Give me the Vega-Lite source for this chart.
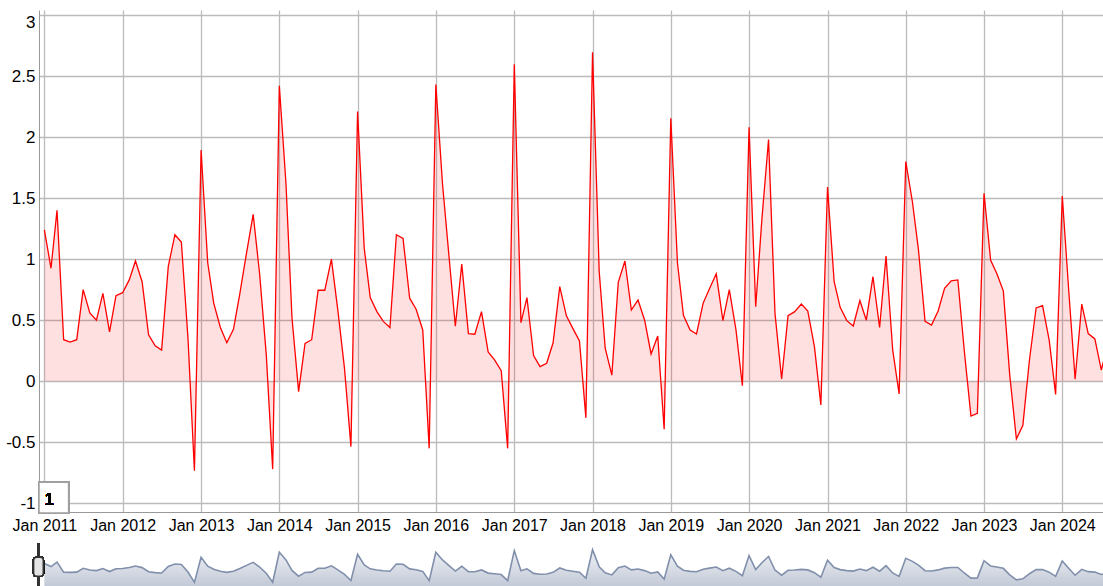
{
  "$schema": "https://vega.github.io/schema/vega-lite/v6.json",
  "padding": {"top": 10, "left": 0, "right": 0, "bottom": 0},
  "autosize": {"type": "pad"},
  "background": "white",
  "spacing": 6,
  "config": {"view": {"stroke": null}, "font": "Liberation Sans"},
  "resolve": {"scale": {"x": "independent", "y": "independent"}},
  "datasets": {
    "d": [
      {"date": "2011-01-01", "v": 1.24}, {"date": "2011-02-01", "v": 0.925}, {"date": "2011-03-01", "v": 1.40}, {"date": "2011-04-01", "v": 0.34},
      {"date": "2011-05-01", "v": 0.32}, {"date": "2011-06-01", "v": 0.34}, {"date": "2011-07-01", "v": 0.75}, {"date": "2011-08-01", "v": 0.56},
      {"date": "2011-09-01", "v": 0.50}, {"date": "2011-10-01", "v": 0.72}, {"date": "2011-11-01", "v": 0.405}, {"date": "2011-12-01", "v": 0.70},
      {"date": "2012-01-01", "v": 0.725}, {"date": "2012-02-01", "v": 0.83}, {"date": "2012-03-01", "v": 0.985}, {"date": "2012-04-01", "v": 0.815},
      {"date": "2012-05-01", "v": 0.38}, {"date": "2012-06-01", "v": 0.29}, {"date": "2012-07-01", "v": 0.255}, {"date": "2012-08-01", "v": 0.94},
      {"date": "2012-09-01", "v": 1.20}, {"date": "2012-10-01", "v": 1.14}, {"date": "2012-11-01", "v": 0.35}, {"date": "2012-12-01", "v": -0.733},
      {"date": "2013-01-01", "v": 1.894}, {"date": "2013-02-01", "v": 0.97}, {"date": "2013-03-01", "v": 0.64}, {"date": "2013-04-01", "v": 0.44},
      {"date": "2013-05-01", "v": 0.315}, {"date": "2013-06-01", "v": 0.425}, {"date": "2013-07-01", "v": 0.72}, {"date": "2013-08-01", "v": 1.05},
      {"date": "2013-09-01", "v": 1.367}, {"date": "2013-10-01", "v": 0.88}, {"date": "2013-11-01", "v": 0.22}, {"date": "2013-12-01", "v": -0.72},
      {"date": "2014-01-01", "v": 2.42}, {"date": "2014-02-01", "v": 1.62}, {"date": "2014-03-01", "v": 0.52}, {"date": "2014-04-01", "v": -0.085},
      {"date": "2014-05-01", "v": 0.31}, {"date": "2014-06-01", "v": 0.34}, {"date": "2014-07-01", "v": 0.745}, {"date": "2014-08-01", "v": 0.745},
      {"date": "2014-09-01", "v": 1.0}, {"date": "2014-10-01", "v": 0.58}, {"date": "2014-11-01", "v": 0.105}, {"date": "2014-12-01", "v": -0.536},
      {"date": "2015-01-01", "v": 2.21}, {"date": "2015-02-01", "v": 1.09}, {"date": "2015-03-01", "v": 0.685}, {"date": "2015-04-01", "v": 0.57},
      {"date": "2015-05-01", "v": 0.49}, {"date": "2015-06-01", "v": 0.44}, {"date": "2015-07-01", "v": 1.20}, {"date": "2015-08-01", "v": 1.17},
      {"date": "2015-09-01", "v": 0.68}, {"date": "2015-10-01", "v": 0.59}, {"date": "2015-11-01", "v": 0.42}, {"date": "2015-12-01", "v": -0.55},
      {"date": "2016-01-01", "v": 2.43}, {"date": "2016-02-01", "v": 1.62}, {"date": "2016-03-01", "v": 1.05}, {"date": "2016-04-01", "v": 0.45},
      {"date": "2016-05-01", "v": 0.96}, {"date": "2016-06-01", "v": 0.39}, {"date": "2016-07-01", "v": 0.385}, {"date": "2016-08-01", "v": 0.57},
      {"date": "2016-09-01", "v": 0.24}, {"date": "2016-10-01", "v": 0.175}, {"date": "2016-11-01", "v": 0.086}, {"date": "2016-12-01", "v": -0.55},
      {"date": "2017-01-01", "v": 2.596}, {"date": "2017-02-01", "v": 0.48}, {"date": "2017-03-01", "v": 0.685}, {"date": "2017-04-01", "v": 0.21},
      {"date": "2017-05-01", "v": 0.12}, {"date": "2017-06-01", "v": 0.147}, {"date": "2017-07-01", "v": 0.315}, {"date": "2017-08-01", "v": 0.775},
      {"date": "2017-09-01", "v": 0.535}, {"date": "2017-10-01", "v": 0.433}, {"date": "2017-11-01", "v": 0.33}, {"date": "2017-12-01", "v": -0.30},
      {"date": "2018-01-01", "v": 2.694}, {"date": "2018-02-01", "v": 0.9}, {"date": "2018-03-01", "v": 0.27}, {"date": "2018-04-01", "v": 0.05},
      {"date": "2018-05-01", "v": 0.81}, {"date": "2018-06-01", "v": 0.985}, {"date": "2018-07-01", "v": 0.583}, {"date": "2018-08-01", "v": 0.665},
      {"date": "2018-09-01", "v": 0.50}, {"date": "2018-10-01", "v": 0.223}, {"date": "2018-11-01", "v": 0.37}, {"date": "2018-12-01", "v": -0.394},
      {"date": "2019-01-01", "v": 2.154}, {"date": "2019-02-01", "v": 0.97}, {"date": "2019-03-01", "v": 0.54}, {"date": "2019-04-01", "v": 0.42},
      {"date": "2019-05-01", "v": 0.387}, {"date": "2019-06-01", "v": 0.64}, {"date": "2019-07-01", "v": 0.76}, {"date": "2019-08-01", "v": 0.88},
      {"date": "2019-09-01", "v": 0.496}, {"date": "2019-10-01", "v": 0.75}, {"date": "2019-11-01", "v": 0.42}, {"date": "2019-12-01", "v": -0.037},
      {"date": "2020-01-01", "v": 2.08}, {"date": "2020-02-01", "v": 0.61}, {"date": "2020-03-01", "v": 1.33}, {"date": "2020-04-01", "v": 1.98},
      {"date": "2020-05-01", "v": 0.556}, {"date": "2020-06-01", "v": 0.018}, {"date": "2020-07-01", "v": 0.537}, {"date": "2020-08-01", "v": 0.57},
      {"date": "2020-09-01", "v": 0.632}, {"date": "2020-10-01", "v": 0.575}, {"date": "2020-11-01", "v": 0.283}, {"date": "2020-12-01", "v": -0.195},
      {"date": "2021-01-01", "v": 1.59}, {"date": "2021-02-01", "v": 0.815}, {"date": "2021-03-01", "v": 0.605}, {"date": "2021-04-01", "v": 0.496},
      {"date": "2021-05-01", "v": 0.452}, {"date": "2021-06-01", "v": 0.66}, {"date": "2021-07-01", "v": 0.50}, {"date": "2021-08-01", "v": 0.856},
      {"date": "2021-09-01", "v": 0.44}, {"date": "2021-10-01", "v": 1.026}, {"date": "2021-11-01", "v": 0.256}, {"date": "2021-12-01", "v": -0.105},
      {"date": "2022-01-01", "v": 1.80}, {"date": "2022-02-01", "v": 1.47}, {"date": "2022-03-01", "v": 1.08}, {"date": "2022-04-01", "v": 0.49},
      {"date": "2022-05-01", "v": 0.46}, {"date": "2022-06-01", "v": 0.575}, {"date": "2022-07-01", "v": 0.76}, {"date": "2022-08-01", "v": 0.823},
      {"date": "2022-09-01", "v": 0.83}, {"date": "2022-10-01", "v": 0.25}, {"date": "2022-11-01", "v": -0.285}, {"date": "2022-12-01", "v": -0.263},
      {"date": "2023-01-01", "v": 1.54}, {"date": "2023-02-01", "v": 0.99}, {"date": "2023-03-01", "v": 0.884}, {"date": "2023-04-01", "v": 0.74},
      {"date": "2023-05-01", "v": 0.05}, {"date": "2023-06-01", "v": -0.473}, {"date": "2023-07-01", "v": -0.364}, {"date": "2023-08-01", "v": 0.174},
      {"date": "2023-09-01", "v": 0.60}, {"date": "2023-10-01", "v": 0.62}, {"date": "2023-11-01", "v": 0.337}, {"date": "2023-12-01", "v": -0.108},
      {"date": "2024-01-01", "v": 1.517}, {"date": "2024-02-01", "v": 0.72}, {"date": "2024-03-01", "v": 0.016}, {"date": "2024-04-01", "v": 0.632},
      {"date": "2024-05-01", "v": 0.39}, {"date": "2024-06-01", "v": 0.346}, {"date": "2024-07-01", "v": 0.092}, {"date": "2024-08-01", "v": 0.3}
    ]
  },
  "vconcat": [
    {
      "width": 1064,
      "height": 502,
      "data": {"name": "d"},
      "encoding": {
        "x": {
          "field": "date", "type": "temporal",
          "scale": {"domain": [{"year": 2010, "month": 12, "date": 7}, {"year": 2024, "month": 7, "date": 9}]},
          "axis": {
            "tickCount": {"interval": "year", "step": 1}, "format": "%b %Y", "grid": true, "gridColor": "#bbbbbb", "gridWidth": 1.3,
            "ticks": false, "domainColor": "#999999", "labelFontSize": 16, "labelColor": "#000000", "labelPadding": 5,
            "labelOverlap": false, "labelFlush": false, "title": null, "minExtent": 24, "maxExtent": 24
          }
        },
        "y": {
          "field": "v", "type": "quantitative",
          "scale": {"domain": [-1.0715, 3.041], "nice": false, "zero": false},
          "axis": {
            "values": [-1, -0.5, 0, 0.5, 1, 1.5, 2, 2.5, 3], "labelExpr": "'' + datum.value", "grid": true, "gridColor": "#bbbbbb", "gridWidth": 1.3,
            "ticks": false, "domainColor": "#999999", "labelFontSize": 17, "labelColor": "#000000", "labelPadding": 4,
            "title": null, "minExtent": 39, "maxExtent": 39,
            "labelOffset": {"condition": {"test": "datum.value === 3", "value": 7}, "value": 0}
          }
        }
      },
      "layer": [
        {"mark": {"type": "area", "color": "#ff0000", "opacity": 0.12, "clip": true}, "encoding": {"y2": {"datum": 0}}},
        {"mark": {"type": "line", "color": "#ff0000", "strokeWidth": 1.3, "clip": true}},
        {
          "mark": {"type": "rect", "fill": "#ffffff", "stroke": "#a0a0a0", "strokeWidth": 1.5, "clip": false},
          "encoding": {
            "x": {"datum": {"year": 2010, "month": 12, "date": 7}, "type": "temporal"},
            "x2": {"datum": {"year": 2011, "month": 4, "date": 24}},
            "y": {"datum": -0.828},
            "y2": {"datum": -1.08}
          }
        },
        {
          "mark": {"type": "text", "text": "1", "align": "left", "baseline": "middle", "fontSize": 17, "fontWeight": "normal", "color": "#000000", "clip": false},
          "encoding": {
            "x": {"datum": {"year": 2011, "month": 1, "date": 2}, "type": "temporal"},
            "y": {"datum": -0.975}
          }
        }
      ]
    },
    {
      "width": 1064,
      "height": 44,
      "data": {"name": "d"},
      "encoding": {
        "x": {
          "field": "date", "type": "temporal",
          "scale": {"domain": [{"year": 2010, "month": 12, "date": 7}, {"year": 2024, "month": 7, "date": 9}]},
          "axis": null
        },
        "y": {
          "field": "v", "type": "quantitative",
          "scale": {"domain": [-1.22, 3.40], "nice": false, "zero": false},
          "axis": {"labels": false, "ticks": false, "domain": false, "grid": false, "title": null, "minExtent": 39, "maxExtent": 39}
        }
      },
      "layer": [
        {
          "mark": {
            "type": "area", "clip": true,
            "color": {"gradient": "linear", "x1": 0, "x2": 0, "y1": 0, "y2": 1, "stops": [{"offset": 0, "color": "#e8ebf1"}, {"offset": 1, "color": "#a7b1c4"}]},
            "line": {"color": "#808fab", "strokeWidth": 1.6}
          },
          "encoding": {"y2": {"datum": -1.22}}
        },
        {
          "mark": {"type": "rule", "color": "#333333", "strokeWidth": 2, "clip": false},
          "encoding": {
            "x": {"datum": {"year": 2010, "month": 12, "date": 5}, "type": "temporal"},
            "y": {"datum": 3.4},
            "y2": {"datum": -1.22}
          }
        },
        {
          "mark": {"type": "rect", "fill": "#e4e4e4", "stroke": "#333333", "strokeWidth": 1.5, "cornerRadius": 3, "clip": false},
          "encoding": {
            "x": {"datum": {"year": 2010, "month": 11, "date": 12}, "type": "temporal"},
            "x2": {"datum": {"year": 2010, "month": 12, "date": 27}},
            "y": {"datum": 1.9},
            "y2": {"datum": -0.1}
          }
        }
      ]
    }
  ]
}
